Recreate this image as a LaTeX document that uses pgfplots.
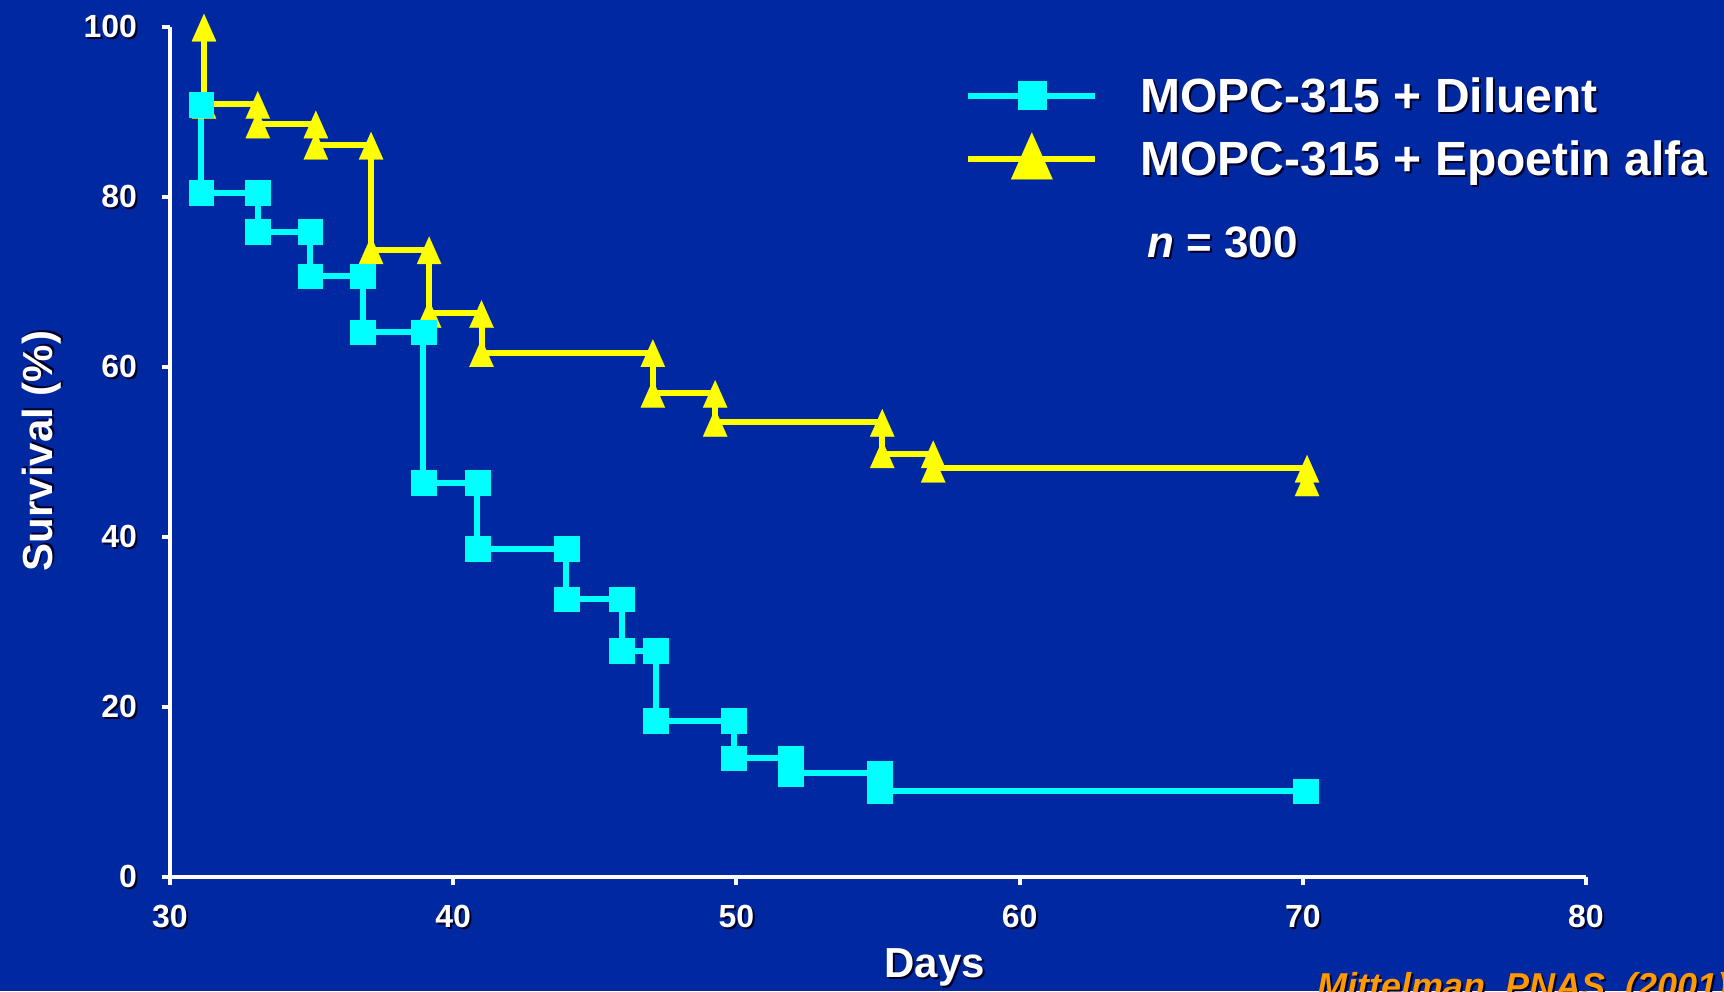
\documentclass[border=0pt]{standalone}
\usepackage{pgfplots}
\pgfplotsset{compat=1.18}
\usepackage{fontspec}
\setmainfont{Liberation Sans}
\definecolor{bg}{RGB}{0,40,160}
\definecolor{cy}{RGB}{0,255,255}
\definecolor{yl}{RGB}{255,255,0}
\definecolor{org}{RGB}{255,153,0}
\definecolor{shd}{RGB}{0,0,40}
\newcommand\sh[1]{\leavevmode\rlap{\kern1pt\raisebox{-1pt}{\color{shd}#1}}#1}
\pgfplotsset{
  mylegend/.style={legend image code/.code={
    \draw[##1,mark=none] (0pt,0pt) -- (63.5pt,0pt);
    \draw[##1,mark size=#1] plot coordinates {(31.75pt,0pt)};
    \path[draw=none,fill=none] (0pt,0pt) -- (86pt,0pt);}}
}
\begin{document}
\begin{tikzpicture}
\fill[bg] (-85pt,-57pt) rectangle (777pt,438.5pt);
\useasboundingbox (-85pt,-57pt) rectangle (777pt,438.5pt);
\begin{axis}[
  at={(0pt,0pt)}, anchor=south west,
  scale only axis, width=708pt, height=425pt,
  xmin=30, xmax=80, ymin=0, ymax=100,
  axis x line=bottom, axis y line=left,
  axis line style={-, white, line width=2pt},
  xtick={30,40,...,80}, ytick={0,20,...,100},
  tick align=outside, major tick length=4pt,
  tick style={white, line width=2pt},
  clip=false,
  every tick label/.append style={font=\fontsize{16}{19}\selectfont\bfseries, text=white},
  xticklabel={\sh{\pgfmathprintnumber[assume math mode=true]{\tick}}},
  yticklabel={\sh{\pgfmathprintnumber[assume math mode=true]{\tick}}},
  xticklabel style={yshift=-6.5pt},
  yticklabel style={xshift=-9pt},
  xlabel={\sh{Days}},
  ylabel={\sh{Survival (\%)}},
  xlabel style={font=\fontsize{21}{25}\selectfont\bfseries, text=white, at={(axis description cs:0.540,-0.108)}, anchor=center},
  ylabel style={font=\fontsize{21}{25}\selectfont\bfseries, text=white, at={(axis description cs:-0.090,0.501)}, anchor=center},
  legend style={at={(axis description cs:0.5614,0.88)}, anchor=west, draw=none, fill=none, inner sep=0pt,
    text=white, font=\fontsize{24}{28}\selectfont\bfseries, row sep=10pt,
    nodes={inner sep=0pt, text height=17pt, text depth=0pt}},
  legend cell align=left,
  reverse legend,
]
\addplot[color=yl, line width=3pt, mark=triangle*, mark size=7pt,
  mark options={fill=yl, draw=yl, line width=0.1pt, yscale=1.3, yshift=-2pt},
  mylegend=12pt]
coordinates {
(31.2,100) (31.2,90.9) (33.1,90.9) (33.1,88.6) (35.15,88.6) (35.15,86.1)
(37.1,86.1) (37.1,73.8) (39.15,73.8) (39.15,66.3) (41.0,66.3) (41.0,61.7)
(47.05,61.7) (47.05,56.9) (49.25,56.9) (49.25,53.5) (55.15,53.5) (55.15,49.8)
(56.95,49.8) (56.95,48.1) (70.15,48.1) (70.15,46.5)
};
\addlegendentry{\sh{MOPC-315 + Epoetin alfa}}
\addplot[color=cy, line width=3pt, mark=square*, mark size=6.2pt,
  mark options={fill=cy, draw=cy, line width=0.1pt},
  mylegend=7pt]
coordinates {
(31.1,90.9) (31.1,80.5) (33.1,80.5) (33.1,75.9) (34.95,75.9) (34.95,70.7)
(36.8,70.7) (36.8,64.1) (38.95,64.1) (38.95,46.4) (40.85,46.4) (40.85,38.6)
(44.0,38.6) (44.0,32.7) (45.95,32.7) (45.95,26.6) (47.15,26.6) (47.15,18.4)
(49.9,18.4) (49.9,14.0) (51.9,14.0) (51.9,12.2) (55.05,12.2) (55.05,10.1)
(70.1,10.1)
};
\addlegendentry{\sh{MOPC-315 + Diluent}}
\node[anchor=west, text=white, font=\fontsize{22}{26}\selectfont\bfseries, inner sep=0pt]
  at (axis description cs:0.690,0.745) {\sh{\textit{n} = 300}};
\end{axis}
\node[anchor=base west, text=org, font=\fontsize{18}{22}\selectfont\bfseries\itshape, inner sep=0pt]
  at (573.5pt,-60.5pt) {\sh{Mittelman, PNAS, (2001)}};
\end{tikzpicture}
\end{document}
